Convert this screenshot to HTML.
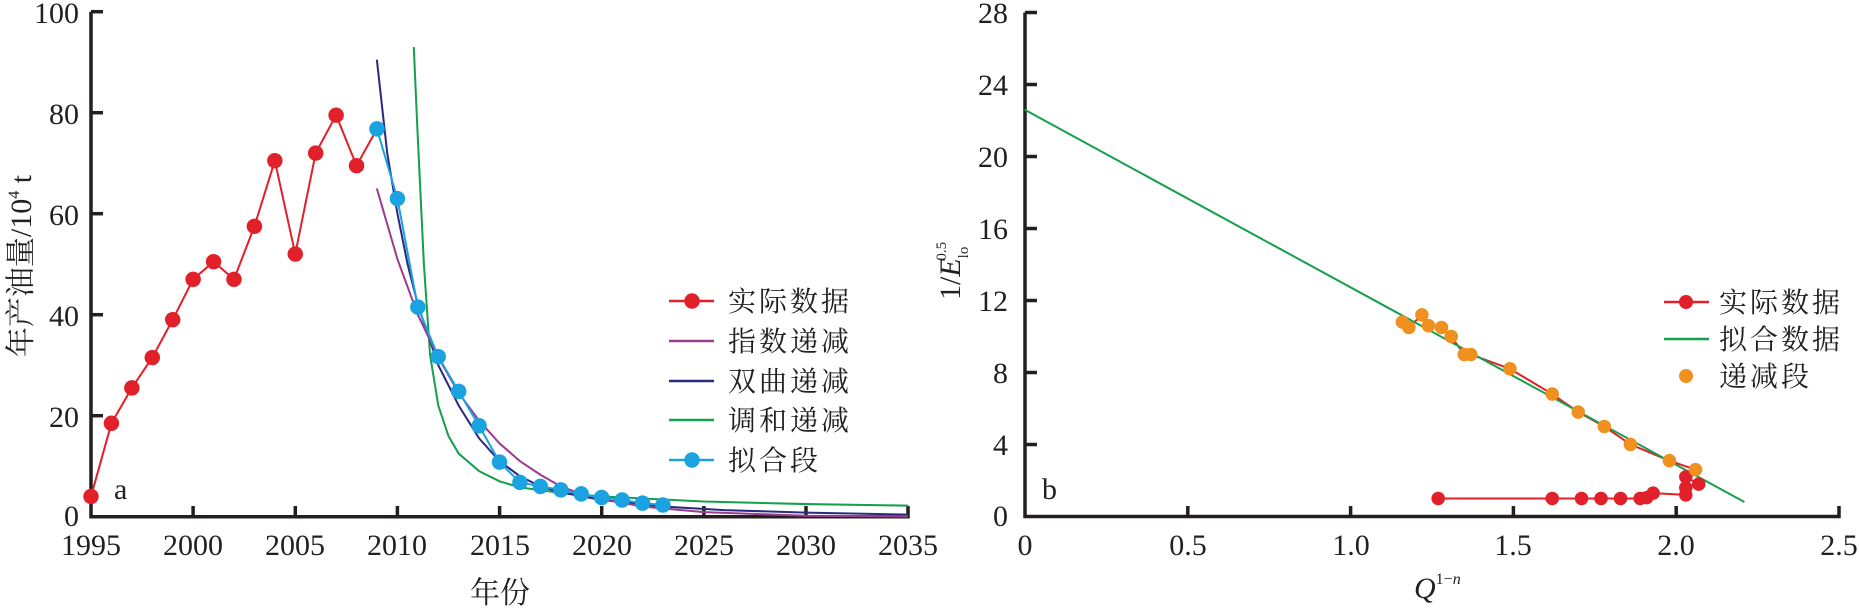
<!DOCTYPE html>
<html><head><meta charset="utf-8"><style>
html,body{margin:0;padding:0;background:#fff;}
svg{display:block;}
text{font-family:"Liberation Serif","Noto Serif CJK SC",serif;fill:#231f20;}
.cjk{font-family:"Liberation Serif","Noto Serif CJK SC","Noto Sans CJK SC",serif;}
</style></head><body>
<svg width="1859" height="609" viewBox="0 0 1859 609" xmlns="http://www.w3.org/2000/svg">
<!-- LEFT AXES -->
<g stroke="#231f20" stroke-width="3.5" fill="none">
<polyline points="91,11.7 91,516.7 908,516.7 908,506"/>
<line x1="91" y1="11.7" x2="103" y2="11.7"/>
<line x1="91" y1="112.7" x2="103" y2="112.7"/>
<line x1="91" y1="213.7" x2="103" y2="213.7"/>
<line x1="91" y1="314.7" x2="103" y2="314.7"/>
<line x1="91" y1="415.7" x2="103" y2="415.7"/>
<line x1="193.1" y1="516.7" x2="193.1" y2="506"/>
<line x1="295.3" y1="516.7" x2="295.3" y2="506"/>
<line x1="397.4" y1="516.7" x2="397.4" y2="506"/>
<line x1="499.6" y1="516.7" x2="499.6" y2="506"/>
<line x1="601.7" y1="516.7" x2="601.7" y2="506"/>
<line x1="703.9" y1="516.7" x2="703.9" y2="506"/>
<line x1="806" y1="516.7" x2="806" y2="506"/>
</g>
<g font-size="30" text-anchor="end">
<text x="79" y="23">100</text>
<text x="79" y="124">80</text>
<text x="79" y="225">60</text>
<text x="79" y="326">40</text>
<text x="79" y="427">20</text>
<text x="79" y="526">0</text>
</g>
<g font-size="30" text-anchor="middle">
<text x="91" y="555">1995</text>
<text x="193" y="555">2000</text>
<text x="295" y="555">2005</text>
<text x="397" y="555">2010</text>
<text x="500" y="555">2015</text>
<text x="602" y="555">2020</text>
<text x="704" y="555">2025</text>
<text x="806" y="555">2030</text>
<text x="908" y="555">2035</text>
<text x="500" y="603" class="cjk">年份</text>
</g>
<text x="114" y="499" font-size="30">a</text>
<text transform="translate(31,266) rotate(-90)" text-anchor="middle" font-size="30" class="cjk">年产油量/10<tspan font-size="16" dy="-12">4</tspan><tspan dy="12"> t</tspan></text>

<!-- LEFT DATA -->
<g transform="matrix(1.191,0,0,1.191,-0.7,-2.6)" fill="none" stroke-width="1.7">
<polyline stroke="#14a04c" points="348,41.7 351.4,118 356.5,224 361.7,300.3 368.6,342.7 377.1,368.2 385.7,383 402.9,397.8 420,406.3 437.2,411.4 471.5,416.1 505.8,419 591.5,423.3 677.3,425.4 763,426.7"/>
<polyline stroke="#2b2a7d" points="317,52.3 325.7,130.7 334.3,181.6 342.8,224 351.4,257.9 368.6,308.8 385.7,342.7 402.9,370.3 420,389.4 437.2,402.1 454.3,410.6 471.5,415.6 505.8,422 557.2,427.5 608.7,430.5 677.3,432.6 763,434.3"/>
<polyline stroke="#9b3d8f" points="317,160.4 334.3,219.8 351.4,266.4 368.6,302.4 385.7,332.1 402.9,355.4 420,374.5 437.2,389.4 454.3,400.8 471.5,410.6 488.6,416.9 505.8,421.2 540,427.5 591.5,432.2 677.3,435.2 763,435.8"/>
<polyline stroke="#e2202a" points="77,419 94.15,357.6 111.3,327.9 128.45,302.4 145.6,270.6 162.75,236.7 179.9,221.9 197.05,236.7 214.2,192.2 231.35,137.1 248.5,215.5 265.65,130.7 282.8,98.9 299.95,141.3 317.1,110.4"/>
<polyline stroke="#1aa3e0" points="317.1,110.4 334.25,168.9 351.4,260 368.55,301.6 385.7,330.8 402.85,359.7 420,390.2 437.15,407.2 454.3,410.6 471.45,413.5 488.6,416.9 505.75,419.9 522.9,422 540.05,424.6 557.2,426.2"/>
<g fill="#e2202a" stroke="none">
<circle cx="77" cy="419" r="6.5"/><circle cx="94.15" cy="357.6" r="6.5"/><circle cx="111.3" cy="327.9" r="6.5"/><circle cx="128.45" cy="302.4" r="6.5"/><circle cx="145.6" cy="270.6" r="6.5"/><circle cx="162.75" cy="236.7" r="6.5"/><circle cx="179.9" cy="221.9" r="6.5"/><circle cx="197.05" cy="236.7" r="6.5"/><circle cx="214.2" cy="192.2" r="6.5"/><circle cx="231.35" cy="137.1" r="6.5"/><circle cx="248.5" cy="215.5" r="6.5"/><circle cx="265.65" cy="130.7" r="6.5"/><circle cx="282.8" cy="98.9" r="6.5"/><circle cx="299.95" cy="141.3" r="6.5"/>
</g>
<g fill="#1aa3e0" stroke="none">
<circle cx="317.1" cy="110.4" r="6.5"/><circle cx="334.25" cy="168.9" r="6.5"/><circle cx="351.4" cy="260" r="6.5"/><circle cx="368.55" cy="301.6" r="6.5"/><circle cx="385.7" cy="330.8" r="6.5"/><circle cx="402.85" cy="359.7" r="6.5"/><circle cx="420" cy="390.2" r="6.5"/><circle cx="437.15" cy="407.2" r="6.5"/><circle cx="454.3" cy="410.6" r="6.5"/><circle cx="471.45" cy="413.5" r="6.5"/><circle cx="488.6" cy="416.9" r="6.5"/><circle cx="505.75" cy="419.9" r="6.5"/><circle cx="522.9" cy="422" r="6.5"/><circle cx="540.05" cy="424.6" r="6.5"/><circle cx="557.2" cy="426.2" r="6.5"/>
</g>
</g>

<!-- LEFT LEGEND -->
<g stroke-width="2.5">
<line x1="669" y1="301" x2="714" y2="301" stroke="#e2202a"/><circle cx="692" cy="301" r="7.7" fill="#e2202a"/>
<line x1="669" y1="341" x2="714" y2="341" stroke="#9b3d8f"/>
<line x1="669" y1="381" x2="714" y2="381" stroke="#2b2a7d"/>
<line x1="669" y1="420" x2="714" y2="420" stroke="#14a04c"/>
<line x1="669" y1="460" x2="714" y2="460" stroke="#1aa3e0"/><circle cx="692" cy="460" r="7.7" fill="#1aa3e0"/>
</g>
<g font-size="28" class="cjk" letter-spacing="3">
<text x="728" y="311">实际数据</text>
<text x="728" y="351">指数递减</text>
<text x="728" y="391">双曲递减</text>
<text x="728" y="430">调和递减</text>
<text x="728" y="470">拟合段</text>
</g>

<!-- RIGHT AXES -->
<g stroke="#231f20" stroke-width="3.5" fill="none">
<polyline points="1025,12.5 1025,516.5 1839,516.5 1839,506"/>
<line x1="1025" y1="12.5" x2="1037" y2="12.5"/>
<line x1="1025" y1="84.5" x2="1037" y2="84.5"/>
<line x1="1025" y1="156.5" x2="1037" y2="156.5"/>
<line x1="1025" y1="228.5" x2="1037" y2="228.5"/>
<line x1="1025" y1="300.5" x2="1037" y2="300.5"/>
<line x1="1025" y1="372.5" x2="1037" y2="372.5"/>
<line x1="1025" y1="444.5" x2="1037" y2="444.5"/>
<line x1="1187.8" y1="516.5" x2="1187.8" y2="506"/>
<line x1="1350.6" y1="516.5" x2="1350.6" y2="506"/>
<line x1="1513.4" y1="516.5" x2="1513.4" y2="506"/>
<line x1="1676.2" y1="516.5" x2="1676.2" y2="506"/>
</g>
<g font-size="30" text-anchor="end">
<text x="1008" y="23">28</text>
<text x="1008" y="95">24</text>
<text x="1008" y="167">20</text>
<text x="1008" y="239">16</text>
<text x="1008" y="311">12</text>
<text x="1008" y="383">8</text>
<text x="1008" y="455">4</text>
<text x="1008" y="526">0</text>
</g>
<g font-size="30" text-anchor="middle">
<text x="1025" y="555">0</text>
<text x="1188" y="555">0.5</text>
<text x="1351" y="555">1.0</text>
<text x="1513" y="555">1.5</text>
<text x="1676" y="555">2.0</text>
<text x="1839" y="555">2.5</text>
</g>
<text x="1042" y="499" font-size="30">b</text>
<text x="1414" y="598" font-size="30" font-style="italic">Q<tspan font-size="16" dy="-14" font-style="normal">1−</tspan><tspan font-size="16" font-style="italic">n</tspan></text>
<text transform="translate(960,300) rotate(-90)" font-size="30">1/<tspan font-style="italic">E</tspan><tspan font-size="15" dy="8">lo</tspan><tspan font-size="15" dx="-14" dy="-22">0.5</tspan></text>

<!-- RIGHT DATA -->
<g transform="matrix(1.186,0,0,1.185,-0.7,-0.2)" fill="none" stroke-width="1.7">
<polyline stroke="#e2202a" points="1183,271.9 1188.5,276.5 1199.5,265.9 1205,275 1216,276.5 1224.2,284.1 1235.2,299.3 1240.7,299.3 1273.7,311.4 1309.4,332.7 1331.3,347.9 1353.3,360.1 1375.3,375.2 1408.2,388.9 1430.2,396.5 1422,402.6 1432.9,408.7 1422,411.7 1422,417.8 1394.5,416.3 1389,420.1 1383.5,420.8 1367,420.8 1350.5,420.8 1334.1,420.8 1309.4,420.8 1213.2,420.8"/>
<line x1="864.5" y1="92.7" x2="1471.4" y2="423.8" stroke="#14a04c"/>
<g fill="#e2202a" stroke="none">
<circle cx="1422" cy="402.6" r="5.7"/><circle cx="1432.9" cy="408.7" r="5.7"/><circle cx="1422" cy="411.7" r="5.7"/><circle cx="1422" cy="417.8" r="5.7"/><circle cx="1394.5" cy="416.3" r="5.7"/><circle cx="1389" cy="420.1" r="5.7"/><circle cx="1383.5" cy="420.8" r="5.7"/><circle cx="1367" cy="420.8" r="5.7"/><circle cx="1350.5" cy="420.8" r="5.7"/><circle cx="1334.1" cy="420.8" r="5.7"/><circle cx="1309.4" cy="420.8" r="5.7"/><circle cx="1213.2" cy="420.8" r="5.7"/>
</g>
<g fill="#f0901f" stroke="none">
<circle cx="1183" cy="271.9" r="5.7"/><circle cx="1188.5" cy="276.5" r="5.7"/><circle cx="1199.5" cy="265.9" r="5.7"/><circle cx="1205" cy="275" r="5.7"/><circle cx="1216" cy="276.5" r="5.7"/><circle cx="1224.2" cy="284.1" r="5.7"/><circle cx="1235.2" cy="299.3" r="5.7"/><circle cx="1240.7" cy="299.3" r="5.7"/><circle cx="1273.7" cy="311.4" r="5.7"/><circle cx="1309.4" cy="332.7" r="5.7"/><circle cx="1331.3" cy="347.9" r="5.7"/><circle cx="1353.3" cy="360.1" r="5.7"/><circle cx="1375.3" cy="375.2" r="5.7"/><circle cx="1408.2" cy="388.9" r="5.7"/><circle cx="1430.2" cy="396.5" r="5.7"/>
</g>
</g>

<!-- RIGHT LEGEND -->
<g stroke-width="2.5">
<line x1="1664" y1="302" x2="1709" y2="302" stroke="#e2202a"/><circle cx="1686" cy="302" r="7" fill="#e2202a"/>
<line x1="1664" y1="339" x2="1709" y2="339" stroke="#14a04c"/>
<circle cx="1686" cy="376" r="7" fill="#f0901f"/>
</g>
<g font-size="28" class="cjk" letter-spacing="3">
<text x="1719" y="312">实际数据</text>
<text x="1719" y="349">拟合数据</text>
<text x="1719" y="386">递减段</text>
</g>
</svg>
</body></html>
